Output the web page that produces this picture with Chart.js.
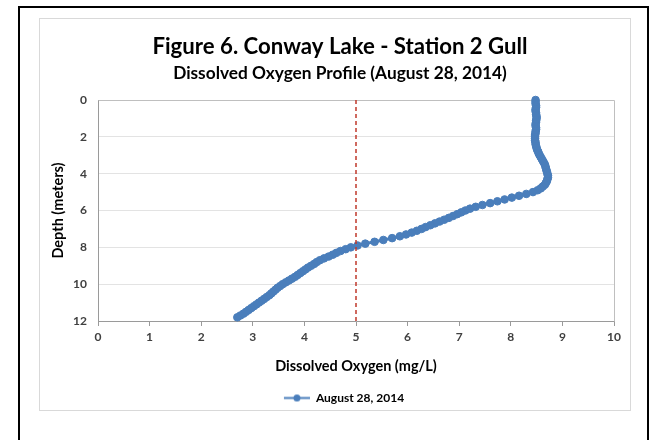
<!DOCTYPE html>
<html>
<head>
<meta charset="utf-8">
<title>Conway Lake - Station 2 Gull</title>
<script src="https://cdn.jsdelivr.net/npm/chart.js@4/dist/chart.umd.min.js"></script>
<style>
	body { margin: 0; background: #fff; }
</style>
</head>
<body>
<canvas class="do-profile" width="656" height="440"></canvas>
<script>
// depth (m) and dissolved oxygen (mg/L)
const depth = [
	0.0, 0.1, 0.2, 0.3, 0.4, 0.5, 0.6, 0.7, 0.8, 0.9,
	1.0, 1.1, 1.2, 1.3, 1.4, 1.5, 1.6, 1.7, 1.8, 1.9,
	2.0, 2.1, 2.2, 2.3, 2.4, 2.5, 2.6, 2.7, 2.8, 2.9,
	3.0, 3.1, 3.2, 3.3, 3.4, 3.5, 3.6, 3.7, 3.8, 3.9,
	4.0, 4.1, 4.2, 4.3, 4.4, 4.5, 4.6, 4.7, 4.8, 4.9,
	5.0, 5.1, 5.2, 5.3, 5.4, 5.5, 5.6, 5.7, 5.8, 5.9,
	6.0, 6.1, 6.2, 6.3, 6.4, 6.5, 6.6, 6.7, 6.8, 6.9,
	7.0, 7.1, 7.2, 7.3, 7.4, 7.5, 7.6, 7.7, 7.8, 7.9,
	8.0, 8.1, 8.2, 8.3, 8.4, 8.5, 8.6, 8.7, 8.8, 8.9,
	9.0, 9.1, 9.2, 9.3, 9.4, 9.5, 9.6, 9.7, 9.8, 9.9,
	10.0, 10.1, 10.2, 10.3, 10.4, 10.5, 10.6, 10.7, 10.8, 10.9,
	11.0, 11.1, 11.2, 11.3, 11.4, 11.5, 11.6, 11.7, 11.8,
];
const oxygen = [
	8.48, 8.48, 8.48, 8.49, 8.49, 8.48, 8.48, 8.49, 8.49, 8.5,
	8.5, 8.49, 8.49, 8.48, 8.48, 8.49, 8.49, 8.48, 8.48, 8.47,
	8.47, 8.47, 8.47, 8.48, 8.48, 8.49, 8.5, 8.51, 8.53, 8.54,
	8.56, 8.58, 8.6, 8.62, 8.64, 8.66, 8.67, 8.68, 8.69, 8.7,
	8.71, 8.72, 8.72, 8.71, 8.7, 8.68, 8.66, 8.62, 8.58, 8.52,
	8.43, 8.3, 8.16, 8.02, 7.88, 7.74, 7.6, 7.45, 7.32, 7.21,
	7.12, 7.04, 6.96, 6.88, 6.8, 6.71, 6.62, 6.53, 6.44, 6.35,
	6.27, 6.18, 6.08, 5.97, 5.85, 5.7, 5.53, 5.36, 5.18, 5.03,
	4.9, 4.8, 4.7, 4.62, 4.55, 4.47, 4.38, 4.3, 4.24, 4.19,
	4.13, 4.07, 4.02, 3.97, 3.92, 3.87, 3.82, 3.76, 3.7, 3.64,
	3.58, 3.53, 3.48, 3.44, 3.4, 3.36, 3.32, 3.27, 3.22, 3.17,
	3.12, 3.07, 3.02, 2.97, 2.92, 2.87, 2.82, 2.76, 2.7,
];
// dashed 5 mg/L reference line
const limitOxygen = [5, 5];
const limitDepth = [0, 12];

const xTicks = [0, 1, 2, 3, 4, 5, 6, 7, 8, 9, 10];
const yTicks = [0, 2, 4, 6, 8, 10, 12];

const blue = '#4a7ebb';
const fontFamily = 'Lato, "Liberation Sans", sans-serif';

// legend marker: line with a dot, drawn on the right part of the image
const makeLegendSymbol = function () {
	const c = document.createElement('canvas');
	c.width = 34;
	c.height = 9;
	const g = c.getContext('2d');
	g.strokeStyle = blue;
	g.lineWidth = 2;
	g.beginPath();
	g.moveTo(8, 4.5);
	g.lineTo(34, 4.5);
	g.stroke();
	g.fillStyle = blue;
	g.beginPath();
	g.arc(21, 4.5, 3.5, 0, Math.PI * 2);
	g.fill();
	return c;
};

const framePlugin = {
	id: 'frame',
	beforeDraw(chart) {
		const ctx = chart.ctx;
		ctx.save();
		ctx.fillStyle = '#fff';
		ctx.fillRect(0, 0, chart.width, chart.height);
		ctx.strokeStyle = '#000';
		ctx.lineWidth = 2;
		ctx.strokeRect(19, 7, 629, 450);
		ctx.strokeStyle = '#d9d9d9';
		ctx.lineWidth = 1;
		ctx.strokeRect(39.5, 18.5, 591, 392);
		ctx.restore();
	},
	beforeDatasetsDraw(chart) {
		const a = chart.chartArea;
		const ctx = chart.ctx;
		ctx.save();
		ctx.strokeStyle = '#bfbfbf';
		ctx.lineWidth = 1;
		ctx.beginPath();
		ctx.moveTo(Math.round(a.left) + 0.5, Math.round(a.top) + 0.5);
		ctx.lineTo(Math.round(a.right) + 0.5, Math.round(a.top) + 0.5);
		ctx.lineTo(Math.round(a.right) + 0.5, Math.round(a.bottom) + 0.5);
		ctx.stroke();
		ctx.restore();
	},
};

const createProfileChart = function () {
	const legendSymbol = makeLegendSymbol();
	const data = {
		datasets: [
			{
				label: 'August 28, 2014',
				data: depth.map((d, i) => ({ x: oxygen[i], y: d })),
				showLine: true,
				borderColor: blue,
				backgroundColor: blue,
				borderWidth: 3,
				pointStyle: 'circle',
				pointRadius: 3.8,
				pointBorderWidth: 1,
				clip: false,
				order: 1,
			},
			{
				label: 'limit',
				data: limitDepth.map((d, i) => ({ x: limitOxygen[i], y: d })),
				showLine: true,
				borderColor: '#c0392b',
				borderWidth: 1.5,
				borderDash: [4, 3],
				pointRadius: 0,
				order: 0,
			},
		],
	};

	const config = {
		type: 'scatter',
		data: data,
		plugins: [framePlugin],
		options: {
			responsive: false,
			animation: false,
			layout: { padding: { left: 66, right: 42, top: 0, bottom: 26 } },
			plugins: {
				tooltip: { enabled: false },
				title: {
					display: true,
					text: 'Figure 6. Conway Lake - Station 2 Gull',
					color: '#000',
					font: { family: fontFamily, size: 22.2, weight: 'bold' },
					padding: { top: 33.7, bottom: 0 },
				},
				subtitle: {
					display: true,
					text: 'Dissolved Oxygen Profile (August 28, 2014)',
					color: '#000',
					font: { family: fontFamily, size: 17.3, weight: 'bold' },
					padding: { top: 2.3, bottom: 16.6 },
				},
				legend: {
					position: 'bottom',
					labels: {
						usePointStyle: true,
						pointStyleWidth: 34,
						color: '#000',
						font: { family: fontFamily, size: 12, weight: 'bold' },
						padding: 10,
						filter: (item) => item.datasetIndex === 0,
						generateLabels: function (chart) {
							const items = Chart.defaults.plugins.legend.labels.generateLabels(chart);
							items.forEach((it) => (it.pointStyle = legendSymbol));
							return items;
						},
					},
				},
			},
			scales: {
				x: {
					type: 'linear',
					min: 0,
					max: 10,
					afterBuildTicks: (axis) => (axis.ticks = xTicks.map((v) => ({ value: v }))),
					afterFit: (axis) => (axis.height = 61),
					grid: { drawOnChartArea: false, drawTicks: true, tickLength: 5, color: '#9a9a9a' },
					border: { color: '#9a9a9a' },
					ticks: { color: '#404040', padding: 4, font: { family: fontFamily, size: 12, weight: 'bold' } },
					title: {
						display: true,
						text: 'Dissolved Oxygen (mg/L)',
						color: '#000',
						font: { family: fontFamily, size: 14.5, weight: 'bold' },
						padding: { top: 0, bottom: 7 },
					},
				},
				y: {
					type: 'linear',
					reverse: true,
					min: 0,
					max: 12,
					afterBuildTicks: (axis) => (axis.ticks = yTicks.map((v) => ({ value: v }))),
					afterFit: (axis) => (axis.width = 32),
					grid: { drawTicks: false, color: '#e3e3e3' },
					border: { color: '#9a9a9a' },
					ticks: { color: '#404040', padding: 11, font: { family: fontFamily, size: 12, weight: 'bold' } },
					title: {
						display: true,
						text: 'Depth (meters)',
						color: '#000',
						font: { family: fontFamily, size: 14.5, weight: 'bold' },
						padding: { top: -16.7, bottom: 0 },
					},
				},
			},
		},
	};

	const ctx = document.querySelector('.do-profile');
	const myChart = new Chart(ctx, config);
};

//#region ***  Init / DOMContentLoaded  ***********
const init = function () {
	createProfileChart();
};
document.addEventListener('DOMContentLoaded', init);
//#endregion
</script>
</body>
</html>
